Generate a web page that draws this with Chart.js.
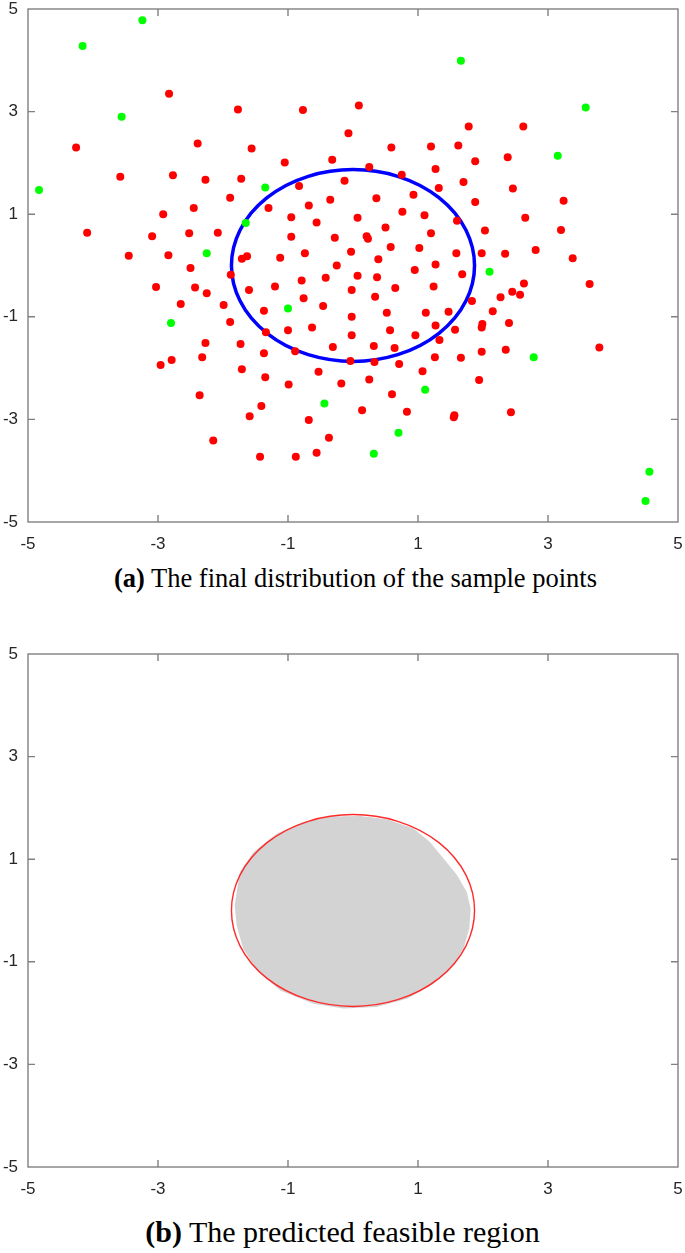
<!DOCTYPE html>
<html>
<head>
<meta charset="utf-8">
<script src="https://cdn.jsdelivr.net/npm/chart.js@4.4.1/dist/chart.umd.min.js"></script>
<style>
  body { margin: 0; background: #fff; width: 685px; height: 1253px; position: relative; overflow: hidden; }
  canvas { position: absolute; left: 0; }
  #chartA { top: 0; }
  #chartB { top: 645px; }
  .caption { position: absolute; left: 0; width: 685px; text-align: center; font-family: "Liberation Serif", "Times New Roman", serif; color: #000; white-space: nowrap; }
  .caption b { font-weight: bold; }
</style>
</head>
<body>
<canvas id="chartA" width="685" height="560"></canvas>
<div class="caption" id="capA" style="top:563px; left:13px; font-size:26.5px;"><b>(a)</b> The final distribution of the sample points</div>
<canvas id="chartB" width="685" height="560"></canvas>
<div class="caption" id="capB" style="top:1215px; left:0px; font-size:30px;"><b>(b)</b> The predicted feasible region</div>
<script>
// sample points
let redX = [-2.83,-1.77,-0.77,-0.07,-4.26,-2.39,-1.56,-1.05,-0.32,-3.58,-2.77,-2.27,-1.72,-0.13,-0.83,-1.89,-2.45,-2.92,-1.30,-0.68,-0.35,-0.95,-0.56,-4.09,-3.09,-2.52,-2.08,-0.95,-0.28,-3.45,-2.84,-1.71,-1.63,-1.12,-0.74,-0.25,-0.03,-2.50,-1.88,-0.79,-0.42,
  0.09,1.78,2.62,0.59,1.20,1.62,1.88,2.38,0.25,1.27,0.75,1.70,2.46,1.32,0.36,0.93,1.88,3.24,0.76,1.10,0.07,1.60,2.65,0.50,1.20,2.03,3.20,0.21,0.23,0.58,1.02,1.59,1.98,2.34,2.81,3.38,0.39,0.95,1.27,1.68,0.07,0.37,
  -3.03,-2.43,-2.25,-1.60,-1.20,-2.65,-1.99,-0.76,-0.46,-1.37,-1.89,-1.00,-0.63,-1.34,-2.27,-1.73,-1.37,-0.89,-0.31,-2.96,-2.79,-2.32,-1.71,-1.35,-0.53,-0.99,-0.18,-2.36,-1.41,-1.59,-0.68,-0.37,-2.15,-1.43,-0.88,-0.56,
  2.63,3.64,-0.02,0.34,0.65,1.24,2.45,2.57,2.27,1.83,2.15,-0.02,0.52,1.12,1.47,1.99,1.98,2.40,1.27,0.57,1.57,-0.02,0.96,1.33,3.79,0.32,0.64,2.35,1.98,1.26,1.66,-0.04,0.33,0.71,1.07,0.25,1.94,0.60,0.14,0.83,1.56,1.55,2.43];
let redY = [3.35,3.04,3.03,2.58,2.30,2.38,2.28,2.01,2.06,1.73,1.76,1.67,1.69,1.65,1.55,1.32,1.12,1.00,1.12,1.17,1.28,0.94,0.84,0.64,0.57,0.63,0.64,0.56,0.54,0.19,0.20,0.13,0.18,0.15,0.24,0.00,0.27,-0.05,-0.18,-0.29,-0.24,
  3.12,2.71,2.71,2.30,2.32,2.34,2.03,2.11,1.92,1.88,1.77,1.63,1.50,1.51,1.31,1.38,1.24,1.26,1.05,0.98,0.93,0.87,0.93,0.74,0.63,0.68,0.69,0.57,0.52,0.36,0.34,0.24,0.24,0.23,0.30,0.14,0.12,-0.09,0.02,-0.17,-0.20,-0.23,
  -0.42,-0.43,-0.54,-0.48,-0.41,-0.75,-0.77,-0.64,-0.79,-0.88,-1.10,-1.26,-1.21,-1.30,-1.51,-1.53,-1.71,-1.67,-1.59,-1.94,-1.84,-1.79,-2.02,-2.18,-2.07,-2.32,-2.30,-2.53,-2.74,-2.94,-3.01,-3.36,-3.41,-3.73,-3.73,-3.65,
  -0.35,-0.36,-0.48,-0.61,-0.44,-0.41,-0.51,-0.57,-0.62,-0.69,-0.89,-1.00,-0.92,-0.92,-0.90,-1.14,-1.21,-1.12,-1.17,-1.26,-1.25,-1.36,-1.36,-1.45,-1.60,-1.57,-1.61,-1.64,-1.68,-1.79,-1.80,-1.86,-1.88,-1.92,-2.06,-2.22,-2.23,-2.51,-2.82,-2.85,-2.92,-2.96,-2.86];

let greenX = [-3.24,-4.16,-3.56,-4.83,-1.35,-1.65,-2.25,1.66,3.58,3.15,2.10,-2.80,-1.00,-0.44,2.78,1.11,0.70,0.32,4.56,4.50];
let greenY = [4.78,4.28,2.90,1.47,1.52,0.83,0.24,3.99,3.08,2.14,-0.12,-1.12,-0.84,-2.69,-1.79,-2.42,-3.26,-3.67,-4.02,-4.59];

// true boundary (centre and radius)
let boundaryCenter = [0, 0];
let boundaryRadius = 1.87;

// outline of the predicted (grey) region
let regionX = [-1.82,-1.74,-1.53,-1.17,-0.76,-0.35,0.11,0.52,0.93,1.18,1.39,1.60,1.75,1.81,1.79,1.70,1.54,1.24,0.83,0.36,-0.15,-0.61,-1.12,-1.48,-1.69,-1.79,-1.82];
let regionY = [0.10,0.75,1.14,1.50,1.73,1.83,1.84,1.78,1.60,1.34,1.02,0.69,0.36,0.04,-0.35,-0.74,-1.07,-1.43,-1.72,-1.88,-1.91,-1.82,-1.56,-1.17,-0.74,-0.29,0.10];

let tickValues = [-5, -3, -1, 1, 3, 5];

function toPoints(xs, ys) {
  return xs.map((x, i) => ({ x: x, y: ys[i] }));
}

// matlab-like box with inward ticks
const boxPlugin = {
  id: "box",
  afterDraw(chart) {
    const ctx = chart.ctx;
    const a = chart.chartArea;
    const sx = chart.scales.x;
    const sy = chart.scales.y;
    ctx.save();
    ctx.strokeStyle = "#808080";
    ctx.lineWidth = 1.4;
    ctx.strokeRect(a.left, a.top, a.right - a.left, a.bottom - a.top);
    ctx.beginPath();
    tickValues.slice(1, -1).forEach((v) => {
      let px = sx.getPixelForValue(v);
      let py = sy.getPixelForValue(v);
      ctx.moveTo(px, a.bottom); ctx.lineTo(px, a.bottom - 7);
      ctx.moveTo(px, a.top); ctx.lineTo(px, a.top + 7);
      ctx.moveTo(a.left, py); ctx.lineTo(a.left + 7, py);
      ctx.moveTo(a.right, py); ctx.lineTo(a.right - 7, py);
    });
    ctx.stroke();
    ctx.restore();
  }
};

function boundaryPlugin(color, width, hook) {
  let p = { id: "boundary" + hook };
  p[hook] = function (chart) {
    const ctx = chart.ctx;
    const sx = chart.scales.x;
    const sy = chart.scales.y;
    let cx = sx.getPixelForValue(boundaryCenter[0]);
    let cy = sy.getPixelForValue(boundaryCenter[1]);
    let rx = sx.getPixelForValue(boundaryCenter[0] + boundaryRadius) - cx;
    let ry = cy - sy.getPixelForValue(boundaryCenter[1] + boundaryRadius);
    ctx.save();
    ctx.strokeStyle = color;
    ctx.lineWidth = width;
    ctx.beginPath();
    ctx.ellipse(cx, cy, rx, ry, 0, 0, Math.PI * 2);
    ctx.stroke();
    ctx.restore();
  };
  return p;
}

function axisOptions(isX) {
  return {
    type: "linear",
    min: -5,
    max: 5,
    grid: { display: false, drawTicks: false },
    border: { display: false },
    afterBuildTicks: (scale) => { scale.ticks = tickValues.map((v) => ({ value: v })); },
    afterFit: (scale) => {
      if (isX) {
        scale.height = 38;
        scale.paddingLeft = 0;
        scale.paddingRight = 0;
      } else {
        scale.width = 28;
        scale.paddingTop = 0;
        scale.paddingBottom = 0;
      }
    },
    ticks: {
      padding: isX ? 12 : 10,
      color: "#262626",
      font: { family: "'Liberation Sans', Arial, sans-serif", size: 17 },
      callback: (v) => String(v),
      maxRotation: 0,
      autoSkip: false
    }
  };
}

function baseOptions() {
  return {
    responsive: false,
    animation: false,
    layout: { padding: { top: 9, right: 7, left: 0, bottom: 0 } },
    plugins: { legend: { display: false }, tooltip: { enabled: false } },
    scales: { x: axisOptions(true), y: axisOptions(false) }
  };
}

let chartA = new Chart(document.getElementById("chartA").getContext("2d"), {
  type: "scatter",
  data: {
    datasets: [
      { label: "infeasible", data: toPoints(greenX, greenY), backgroundColor: "#00ff00", borderWidth: 0, pointRadius: 4 },
      { label: "feasible", data: toPoints(redX, redY), backgroundColor: "#ff0000", borderWidth: 0, pointRadius: 4 }
    ]
  },
  options: baseOptions(),
  plugins: [boundaryPlugin("#0000ff", 3.5, "beforeDatasetsDraw"), boxPlugin]
});

let chartB = new Chart(document.getElementById("chartB").getContext("2d"), {
  type: "scatter",
  data: {
    datasets: [
      {
        label: "predicted",
        data: toPoints(regionX, regionY),
        showLine: true,
        fill: "shape",
        backgroundColor: "#d3d3d3",
        borderColor: "#d3d3d3",
        borderWidth: 0,
        pointRadius: 0,
        tension: 0
      }
    ]
  },
  options: baseOptions(),
  plugins: [boundaryPlugin("#ff2a2a", 1.4, "afterDatasetsDraw"), boxPlugin]
});
</script>
</body>
</html>
